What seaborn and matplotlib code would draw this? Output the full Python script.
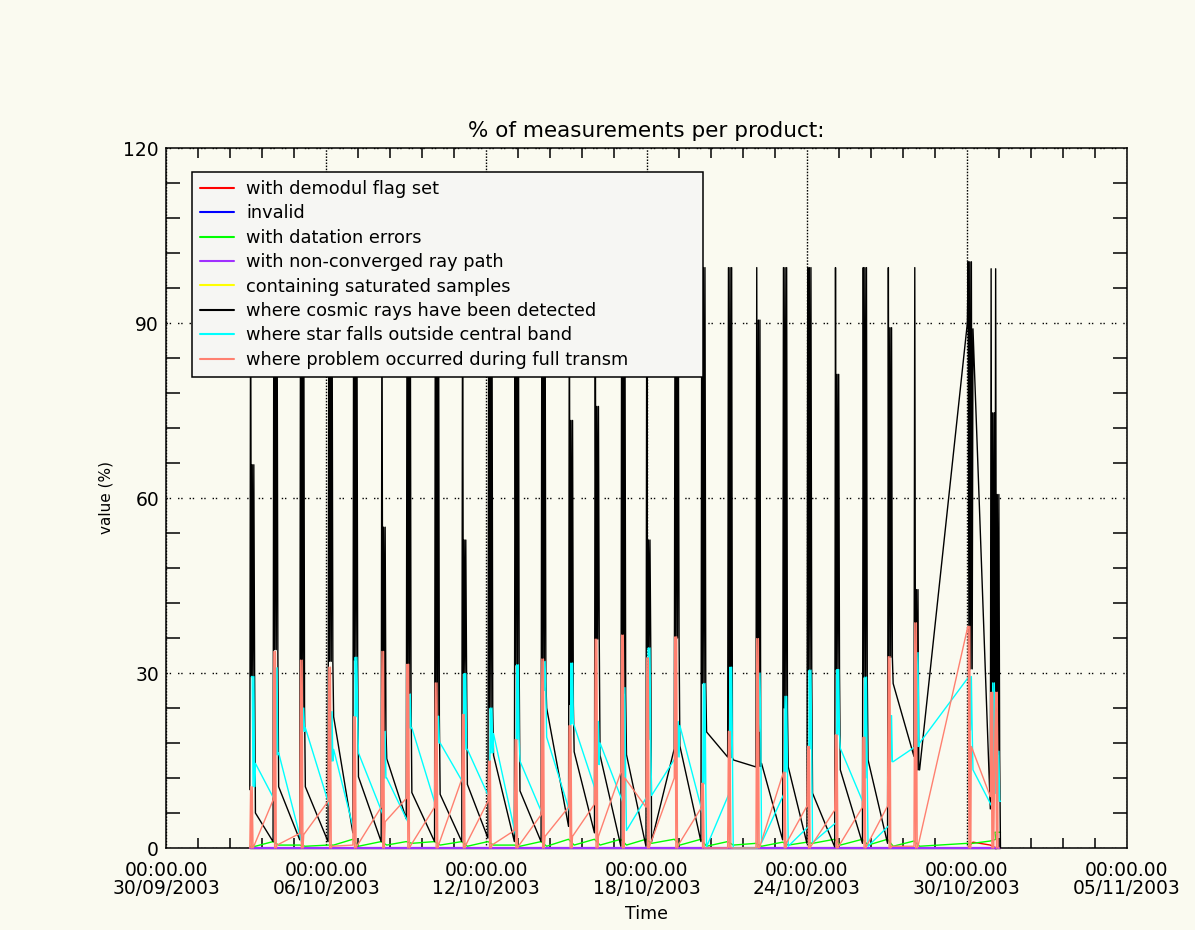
import numpy as np
import matplotlib
matplotlib.use("Agg")
import matplotlib.pyplot as plt
from matplotlib.lines import Line2D
from matplotlib.ticker import MultipleLocator, FixedLocator
import seaborn as sns

# ---------------- data ----------------
tick_days = [0, 6, 12, 18, 24, 30, 36]
tick_dates = ["30/09/2003", "06/10/2003", "12/10/2003", "18/10/2003",
              "24/10/2003", "30/10/2003", "05/11/2003"]
tick_time = "00:00.00"

series_labels = ["with demodul flag set", "invalid", "with datation errors",
                 "with non-converged ray path", "containing saturated samples",
                 "where cosmic rays have been detected",
                 "where star falls outside central band",
                 "where problem occurred during full transm"]
series_colors = ["#FF0000", "#0000FF", "#00FF00", "#A030FF", "#FFFF00",
                 "#000000", "#00FFFF", "#FF8070"]

# days since 30/09/2003 00:00 of each daily group of products
cluster_day = [3.14, 4.01, 5.01, 6.07, 7.00, 8.06, 9.00, 10.06, 11.08, 12.06,
               13.05, 14.05, 15.08, 16.05, 17.04, 17.98, 19.04, 20.04, 21.04,
               22.10, 23.10, 24.01, 25.05, 26.09, 27.03, 28.02, 30.02, 30.88,
               31.05]

# cosmic rays (black)
cosmic_in = [10.0, 1.1, 1.4, 1.1, 2.6, 1.1, 5.0, 1.1, 1.1, 1.7, 1.1, 1.1, 3.7,
             2.6, 0.3, 0.3, 17.0, 1.1, 15.6, 13.9, 1.4, 0.8, 0.2, 0.8, 0.8,
             15.7, 90.0, 6.7, 16.0]
cosmic_top = [99.5] * 26 + [100.5, 99.3, 99.3]
cosmic_mid = [65.7, 99.5, 99.5, 99.5, 99.5, 55.0, 99.5, 99.5, 52.8, 99.5, 99.5,
              99.5, 73.3, 75.7, 99.5, 52.8, 99.5, 99.5, 99.5, 90.5, 99.5, 99.5,
              81.2, 99.5, 89.2, 44.3, 100.5, 74.6, 60.6]
cosmic_low = [29.4, 34.0, 24.0, 32.0, 32.2, 20.0, 26.4, 22.6, 29.9, 24.0, 31.4,
              28.6, 24.6, 35.8, 26.5, 34.3, 36.0, 28.2, 15.5, 14.0, 24.0, 30.5,
              30.6, 29.3, 32.7, 13.4, 30.7, 10.0, 16.0]
cosmic_out = [6.0, 10.5, 10.5, 22.5, 12.2, 15.3, 9.5, 9.2, 10.9, 15.9, 9.8,
              24.0, 16.5, 15.9, 16.0, 1.1, 17.5, 19.9, 15.1, 14.5, 13.9, 9.4,
              13.4, 15.1, 28.2, 13.4, 89.0, 10.0, 0.0]

# star outside central band (cyan)
star_in = [29.4, 8.2, 1.1, 7.1, 2.6, 5.8, 4.5, 7.0, 11.1, 8.5, 1.9, 5.7, 6.0,
           9.6, 8.0, 9.0, 15.6, 6.0, 9.4, 0.0, 9.4, 3.7, 4.4, 7.4, 3.9, 17.4,
           29.4, 7.1, 16.0]
star_high = [29.4, 30.9, 24.0, 23.4, 32.7, 20.0, 26.4, 22.6, 29.9, 24.0, 31.4,
             32.0, 31.7, 21.7, 27.5, 34.3, 21.7, 28.2, 31.0, 30.0, 26.0, 30.5,
             30.6, 29.3, 22.7, 33.5, 29.4, 28.3, 16.6]
star_low = [10.5, 16.0, 20.0, 14.9, 22.5, 12.0, 20.6, 18.0, 16.9, 16.3, 18.6,
            27.0, 21.3, 14.3, 12.0, 18.6, 15.6, 11.0, 15.5, 20.0, 13.0, 17.0,
            19.4, 12.0, 14.8, 17.4, 20.2, 9.4, 8.0]
star_out = [14.5, 16.3, 20.6, 16.9, 16.3, 12.0, 20.6, 18.0, 16.9, 19.6, 14.9,
            19.0, 21.0, 18.0, 3.0, 9.0, 21.0, 0.2, 0.0, 0.9, 0.3, 0.9, 17.1,
            0.3, 14.8, 18.0, 13.4, 9.4, 8.0]

# problem during full transmission (salmon)
transm_in = [0.0, 8.2, 2.5, 8.0, 0.5, 7.0, 8.5, 7.0, 11.8, 8.0, 3.0, 5.7, 7.0,
             7.5, 13.0, 7.0, 12.0, 6.8, 0.0, 0.0, 12.6, 7.2, 6.5, 7.0, 7.2, 0.3,
             37.6, 8.8, 20.0]
transm_high = [10.5, 33.7, 32.2, 31.0, 22.5, 33.7, 31.5, 28.3, 22.9, 14.9,
               18.6, 32.4, 21.0, 35.8, 36.5, 32.6, 36.2, 11.1, 20.0, 35.9, 13.0,
               17.4, 19.4, 19.0, 32.8, 38.6, 38.0, 26.7, 26.7]
transm_out = [0.3, 0.5, 2.3, 0.3, 0.3, 4.5, 0.3, 0.5, 0.5, 0.5, 0.3, 2.0, 2.0,
              2.0, 12.0, 0.5, 0.5, 0.0, 0.0, 0.3, 0.9, 0.3, 0.3, 0.3, 0.3, 0.3,
              17.4, 8.8, 0.0]

# datation errors (green)
dat_in = [0.3, 1.1, 0.5, 0.5, 1.5, 1.1, 1.1, 1.1, 1.1, 1.1, 0.5, 1.1, 1.5, 1.5,
          1.5, 1.5, 1.5, 1.5, 1.1, 0.8, 1.0, 1.0, 1.5, 1.5, 1.5, 1.2, 0.8, 1.2,
          2.7]
dat_out = [0.3, 0.5, 0.3, 0.5, 0.3, 0.5, 0.8, 0.5, 0.3, 0.5, 0.3, 0.3, 0.5,
           0.5, 0.5, 0.8, 0.5, 0.3, 0.5, 0.3, 0.5, 0.8, 0.5, 0.5, 0.3, 0.3, 0.8,
           1.5, 2.7]

# demodul flag (red)
demod_in = [0.0] * 27 + [0.5, 0.0]
demod_out = [0.0] * 26 + [1.0, 0.0, 0.0]

zero_level = [0.0] * len(cluster_day)


# ---------------- build the time series ----------------
def build(offsets, columns):
    xs, ys = [], []
    for i, t in enumerate(cluster_day):
        for off, col in zip(offsets, columns):
            v = col[i] if isinstance(col, (list, tuple)) else col
            xs.append(t + off)
            ys.append(v)
    return np.array(xs), np.array(ys)


OFF = [0.0, 0.03, 0.06, 0.09, 0.12, 0.15, 0.18, 0.21]
EDGE = [0.0, 0.21]

series = [
    build(EDGE, [demod_in, demod_out]),                       # red
    build(EDGE, [zero_level, zero_level]),                    # blue
    build(EDGE, [dat_in, dat_out]),                           # green
    build(EDGE, [zero_level, zero_level]),                    # purple
    build(EDGE, [zero_level, zero_level]),                    # yellow
    build(OFF, [cosmic_in, cosmic_top, cosmic_low, cosmic_mid, cosmic_low,
                cosmic_mid, cosmic_low, cosmic_out]),         # black
    build(OFF[2:], [star_in, star_high, star_low, star_high, star_low,
                    star_out]),                               # cyan
    build(OFF[:6], [transm_in, transm_high, 0.0, transm_high, 0.0,
                    transm_out]),                             # salmon
]

# ---------------- figure ----------------
sns.set_theme(style="white")
plt.rcParams['font.family'] = ['DejaVu Sans']
plt.rcParams['text.color'] = 'black'
plt.rcParams['axes.labelcolor'] = 'black'
plt.rcParams['xtick.color'] = 'black'
plt.rcParams['ytick.color'] = 'black'
BG = "#FAFAF0"

fig = plt.figure(figsize=(11.95, 9.3), dpi=100, facecolor=BG)
ax = fig.add_axes([166 / 1195, 82 / 930, 961 / 1195, 700 / 930])
ax.set_facecolor(BG)

draw_order = [1, 4, 0, 2, 3, 5, 6, 7]  # blue, yellow below purple
for pos, k in enumerate(draw_order):
    xs, ys = series[k]
    lw = 1.6 if k == 3 else 1.0
    sns.lineplot(x=xs, y=ys, ax=ax, color=series_colors[k], linewidth=lw,
                 estimator=None, sort=False, legend=False,
                 zorder=3 + pos * 0.01, clip_on=False)

ax.set_xlim(0, 36)
ax.set_ylim(0, 120)

ax.xaxis.set_major_locator(FixedLocator(tick_days))
ax.set_xticklabels([f"{tick_time}\n{d}" for d in tick_dates])
ax.xaxis.set_minor_locator(MultipleLocator(1.2))
ax.yaxis.set_major_locator(MultipleLocator(30))
ax.yaxis.set_minor_locator(MultipleLocator(6))

ax.tick_params(which='major', length=0, labelsize=13.5, colors='black')
ax.tick_params(axis='x', which='major', pad=9)
ax.tick_params(axis='y', which='major', pad=5)
ax.tick_params(which='minor', direction='in', top=True, right=True,
               bottom=True, left=True, width=1.1, color='black')
ax.tick_params(axis='x', which='minor', length=7.5)
ax.tick_params(axis='y', which='minor', length=10)
for lbl in ax.get_xticklabels():
    lbl.set_linespacing(0.95)

ax.set_axisbelow(True)
ax.xaxis.grid(True, which='major', color='black', linestyle=(0, (1.1, 1.1)),
              linewidth=1.0)
ax.yaxis.grid(True, which='major', color='black',
              linestyle=(0, (1.0, 1.3, 1.0, 5.0)), linewidth=1.0)

for sp in ax.spines.values():
    sp.set_color('black')
    sp.set_linewidth(1.1)
    sp.set_visible(True)

ax.set_title("% of measurements per product:", fontsize=15.5, pad=8)
ax.set_xlabel("Time", fontsize=12.5, labelpad=5)
ax.set_ylabel("value (%)", fontsize=11, labelpad=7)

handles = [Line2D([0], [0], color=c, lw=1.5) for c in series_colors]
leg = ax.legend(handles, series_labels, loc='upper left',
                bbox_to_anchor=(26 / 961, 0, 511 / 961, 676 / 700),
                mode='expand', borderaxespad=0, fontsize=12.8, frameon=True,
                fancybox=False, framealpha=1, facecolor='#F6F6F3',
                edgecolor='black', borderpad=0.45, labelspacing=0.36,
                handlelength=1.9, handletextpad=0.7)
leg.get_frame().set_linewidth(1.1)
leg.set_zorder(10)

fig.savefig("out.png", dpi=100, facecolor=BG)
